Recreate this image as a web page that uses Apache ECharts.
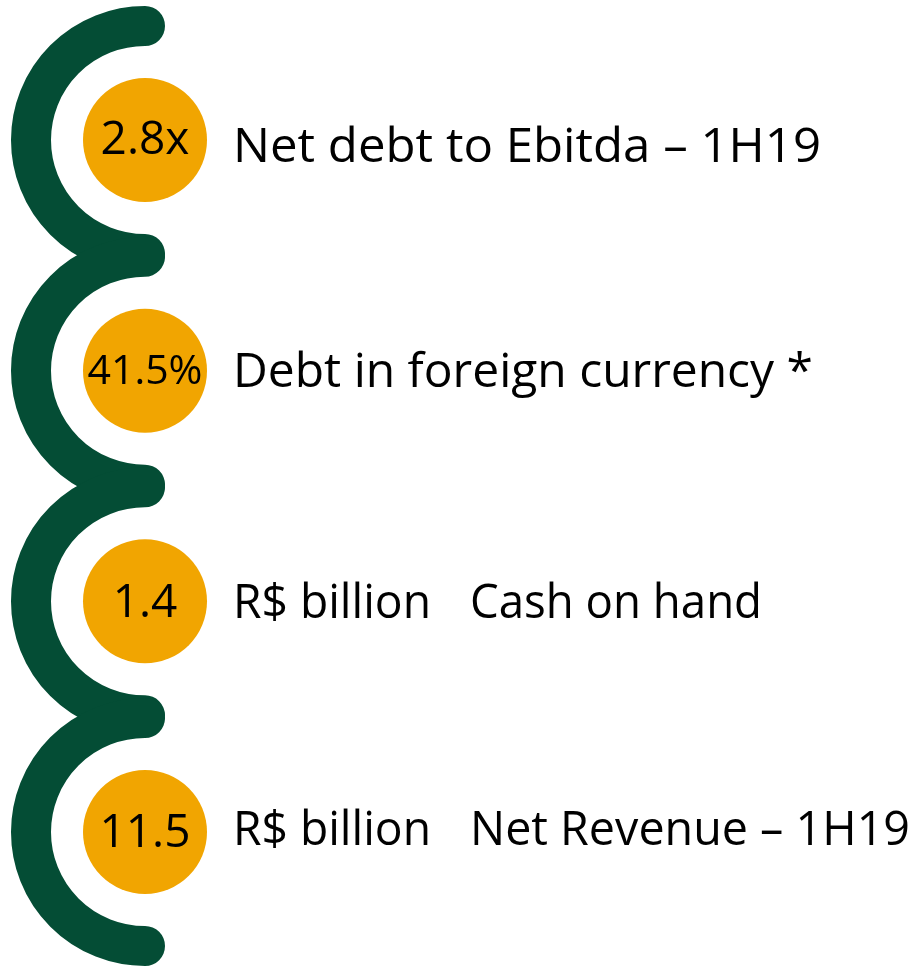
<!DOCTYPE html>
<html><head><meta charset="utf-8">
<script src="https://cdn.jsdelivr.net/npm/echarts@6/dist/echarts.min.js"></script>
<style>html,body{margin:0;padding:0;background:#fff}#chart{width:916px;height:967px}</style>
</head><body><div id="chart"></div>
<script>
// ---- data ----
const values = ['2.8x', '41.5%', '1.4', '11.5'];
const units = ['', '', 'R$ billion', 'R$ billion'];
const descriptions = ['Net debt to Ebitda – 1H19', 'Debt in foreign currency *', 'Cash on hand', 'Net Revenue – 1H19'];

// ---- layout / style ----
const GREEN = '#044D35', ORANGE = '#F1A501';
const CX = 145, ARC_R = 114, ARC_W = 40, DOT_R = 62;
const valueFont = [46, 41, 46, 46];
const valueDy = [1, 2, 3, 2];
const labelDy = [8, 3, 3.5, -1];
const LABEL_X = 233, DESC_X2 = 470, LABEL_FONT = 48;
// rendered text widths in px (layout)
const unitWidth = 198;
const descWidth = [588, 580, 292, 440];

const mctx = document.createElement('canvas').getContext('2d');
function fitScale(text, font, target) {
  mctx.font = font;
  const w = mctx.measureText(text).width;
  return w > 0 ? target / w : 1;
}

const chart = echarts.init(document.getElementById('chart'), null, {renderer: 'canvas'});
chart.setOption({
  animation: false,
  backgroundColor: '#fff',
  grid: {left: 0, right: 0, top: 0, bottom: 0},
  xAxis: {type: 'value', min: 0, max: 916, show: false},
  yAxis: {type: 'value', min: -0.6069, max: 3.5853, inverse: true, show: false},
  series: [{
    type: 'custom',
    data: values.map((v, i) => [i]),
    renderItem: function (params, api) {
      const i = api.value(0);
      const p = api.coord([CX, i]);
      const lx = api.coord([LABEL_X, i])[0];
      const lx2 = api.coord([DESC_X2, i])[0];
      const font = LABEL_FONT + 'px "Open Sans"';
      const children = [
        {type: 'arc', shape: {cx: p[0], cy: p[1], r: ARC_R, startAngle: -Math.PI / 2, endAngle: Math.PI / 2, clockwise: false},
         style: {stroke: GREEN, fill: null, lineWidth: ARC_W, lineCap: 'round'}},
        {type: 'circle', shape: {cx: p[0], cy: p[1], r: DOT_R}, style: {fill: ORANGE}},
        {type: 'text', x: p[0], y: p[1] + valueDy[i],
         style: {text: values[i], fill: '#000', font: valueFont[i] + 'px "Open Sans"', align: 'center', verticalAlign: 'middle'}}
      ];
      if (units[i]) {
        children.push({type: 'text', x: lx, y: p[1] + labelDy[i], scaleX: fitScale(units[i], font, unitWidth),
          style: {text: units[i], fill: '#000', font: font, align: 'left', verticalAlign: 'middle'}});
        children.push({type: 'text', x: lx2, y: p[1] + labelDy[i], scaleX: fitScale(descriptions[i], font, descWidth[i]),
          style: {text: descriptions[i], fill: '#000', font: font, align: 'left', verticalAlign: 'middle'}});
      } else {
        children.push({type: 'text', x: lx, y: p[1] + labelDy[i], scaleX: fitScale(descriptions[i], font, descWidth[i]),
          style: {text: descriptions[i], fill: '#000', font: font, align: 'left', verticalAlign: 'middle'}});
      }
      return {type: 'group', children: children};
    }
  }]
});
</script>
</body></html>
